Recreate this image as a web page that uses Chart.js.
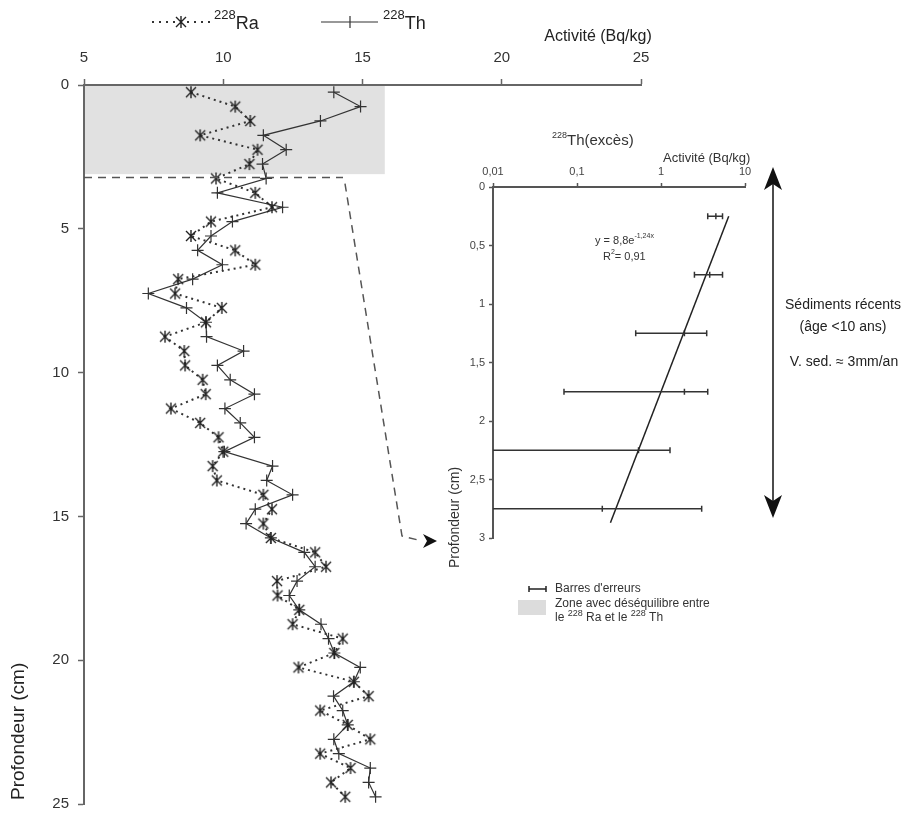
<!DOCTYPE html>
<html>
<head>
<meta charset="utf-8">
<script src="https://cdn.jsdelivr.net/npm/chart.js@4.4.1/dist/chart.umd.min.js"></script>
<style>
  body { margin: 0; background: #fff; }
  #wrap { position: relative; width: 917px; height: 822px; overflow: hidden; }
  #main { position: absolute; left: 0; top: 0; }
  #inset { position: absolute; left: 430px; top: 120px; }
</style>
</head>
<body>
<div id="wrap">
  <canvas id="main" width="917" height="822" style="width:917px;height:822px"></canvas>
  <canvas id="inset" width="340" height="510" style="width:340px;height:510px"></canvas>
</div>
<script>
// profile : depth (cm) vs activity (Bq/kg)
const depthCm = [0.25, 0.75, 1.25, 1.75, 2.25, 2.75, 3.25, 3.75, 4.25, 4.75,
  5.25, 5.75, 6.25, 6.75, 7.25, 7.75, 8.25, 8.75, 9.25, 9.75,
  10.25, 10.75, 11.25, 11.75, 12.25, 12.75, 13.25, 13.75, 14.25, 14.75,
  15.25, 15.75, 16.25, 16.75, 17.25, 17.75, 18.25, 18.75, 19.25, 19.75,
  20.25, 20.75, 21.25, 21.75, 22.25, 22.75, 23.25, 23.75, 24.25, 24.75];
const ra228 = [8.84, 10.43, 10.97, 9.17, 11.23, 10.94, 9.74, 11.15, 11.75, 9.56,
  8.84, 10.43, 11.15, 8.38, 8.27, 9.95, 9.38, 7.91, 8.60, 8.63,
  9.26, 9.37, 8.12, 9.17, 9.83, 10.0, 9.62, 9.77, 11.44, 11.75,
  11.44, 11.71, 13.30, 13.69, 11.93, 11.95, 12.73, 12.49, 14.29, 13.99,
  12.70, 14.69, 15.22, 13.48, 14.47, 15.28, 13.48, 14.57, 13.87, 14.38];
const th228 = [13.97, 14.93, 13.49, 11.44, 12.26, 11.41, 11.54, 9.79, 12.13, 10.33,
  9.56, 9.08, 9.97, 8.90, 7.31, 8.68, 9.38, 9.40, 10.73, 9.79,
  10.25, 11.12, 10.06, 10.61, 11.12, 10.04, 11.77, 11.56, 12.49, 11.15,
  10.82, 11.71, 12.91, 13.30, 12.65, 12.37, 12.73, 13.51, 13.78, 13.99,
  14.92, 14.69, 13.96, 14.29, 14.47, 13.97, 14.15, 15.28, 15.22, 15.47];
const actTicks = [5, 10, 15, 20, 25];
const depthTicks = [0, 5, 10, 15, 20, 25];
const zoneAct = [5, 15.8];
const zoneDepth = [0, 3.1];
const linkDepth = 3.22;

// inset : 228Th excess (log scale)
const excessDepth = [0.25, 0.75, 1.25, 1.75, 2.25, 2.75];
const thExcess = [4.5, 3.8, 1.9, 1.9, 0.54, 0.2];
const thExcessLow = [3.6, 2.5, 0.5, 0.07, 0.005, 0.005];
const thExcessHigh = [5.4, 5.4, 3.5, 3.6, 1.28, 3.05];
const fitAct = [6.4, 0.25];
const fitDepth = [0.25, 2.87];
const logTicks = [0.01, 0.1, 1, 10];
const insetDepthTicks = [0, 0.5, 1, 1.5, 2, 2.5, 3];

const FONT = 'Liberation Sans, Arial, Helvetica, sans-serif';
Chart.defaults.font.family = FONT;
Chart.defaults.color = '#333';

const frNum = v => String(v).replace('.', ',');

function raMarker() {
  const c = document.createElement('canvas');
  c.width = 14; c.height = 14;
  const g = c.getContext('2d');
  g.strokeStyle = '#222';
  g.lineWidth = 1.4;
  g.beginPath();
  g.moveTo(2, 2); g.lineTo(12, 12);
  g.moveTo(12, 2); g.lineTo(2, 12);
  g.moveTo(7, 1); g.lineTo(7, 13);
  g.stroke();
  return c;
}
const raImg = raMarker();

// draws text runs, some of them as superscripts
function richText(ctx, parts, x, y) {
  let cx = x;
  parts.forEach(p => {
    ctx.font = p.size + 'px ' + FONT;
    ctx.fillText(p.t, cx, y + (p.dy || 0));
    cx += ctx.measureText(p.t).width;
  });
}

const mainDecor = {
  id: 'mainDecor',
  beforeDraw(chart) {
    const { ctx, scales: { x, y } } = chart;
    const x0 = x.getPixelForValue(zoneAct[0]), x1 = x.getPixelForValue(zoneAct[1]);
    const y0 = y.getPixelForValue(zoneDepth[0]), y1 = y.getPixelForValue(zoneDepth[1]);
    ctx.save();
    ctx.fillStyle = '#e1e1e1';
    ctx.fillRect(x0, y0, x1 - x0, y1 - y0);
    ctx.restore();
  },
  afterDraw(chart) {
    const { ctx, scales: { x, y }, chartArea } = chart;
    ctx.save();

    // dashed link to the inset
    const yl = y.getPixelForValue(linkDepth);
    ctx.strokeStyle = '#555';
    ctx.lineWidth = 1.5;
    ctx.setLineDash([8, 6]);
    ctx.beginPath();
    ctx.moveTo(chartArea.left, yl);
    ctx.lineTo(343, yl);
    ctx.stroke();
    ctx.beginPath();
    ctx.moveTo(345, yl + 6);
    ctx.lineTo(402, 536);
    ctx.lineTo(422, 541);
    ctx.stroke();
    ctx.setLineDash([]);
    ctx.fillStyle = '#111';
    ctx.beginPath();
    ctx.moveTo(437, 541); ctx.lineTo(423, 534); ctx.lineTo(427, 541); ctx.lineTo(423, 548);
    ctx.closePath(); ctx.fill();

    // double arrow on the right
    ctx.strokeStyle = '#111';
    ctx.lineWidth = 1.5;
    ctx.beginPath(); ctx.moveTo(773, 180); ctx.lineTo(773, 505); ctx.stroke();
    ctx.beginPath();
    ctx.moveTo(773, 167); ctx.lineTo(764, 190); ctx.lineTo(773, 184); ctx.lineTo(782, 190);
    ctx.closePath(); ctx.fill();
    ctx.beginPath();
    ctx.moveTo(773, 518); ctx.lineTo(764, 495); ctx.lineTo(773, 501); ctx.lineTo(782, 495);
    ctx.closePath(); ctx.fill();

    ctx.fillStyle = '#222';
    ctx.textAlign = 'center';
    ctx.textBaseline = 'middle';
    ctx.font = '14px ' + FONT;
    ctx.fillText('Sédiments récents', 843, 305);
    ctx.fillText('(âge <10 ans)', 843, 327);
    ctx.fillText('V. sed. ≈ 3mm/an', 844, 362);

    // axis titles
    ctx.font = '16px ' + FONT;
    ctx.fillText('Activité (Bq/kg)', 598, 37);
    ctx.save();
    ctx.translate(19, 800);
    ctx.rotate(-Math.PI / 2);
    ctx.textAlign = 'left';
    ctx.font = '19px ' + FONT;
    ctx.fillText('Profondeur (cm)', 0, 0);
    ctx.restore();

    // top legend
    ctx.strokeStyle = '#333';
    ctx.lineWidth = 2;
    ctx.setLineDash([2, 5]);
    ctx.beginPath(); ctx.moveTo(152, 22); ctx.lineTo(211, 22); ctx.stroke();
    ctx.setLineDash([]);
    ctx.drawImage(raImg, 174, 15);
    ctx.lineWidth = 1.2;
    ctx.beginPath(); ctx.moveTo(321, 22); ctx.lineTo(378, 22);
    ctx.moveTo(350, 16); ctx.lineTo(350, 28); ctx.stroke();
    ctx.textAlign = 'left';
    ctx.fillStyle = '#222';
    richText(ctx, [{ t: '228', size: 13, dy: -7 }, { t: 'Ra', size: 18, dy: 2 }], 214, 22);
    richText(ctx, [{ t: '228', size: 13, dy: -7 }, { t: 'Th', size: 18, dy: 2 }], 383, 22);
    ctx.restore();
  }
};

const axisGrid = { display: true, drawOnChartArea: false, drawTicks: true, tickLength: 6, color: '#666', tickWidth: 1.5 };

new Chart(document.getElementById('main'), {
  type: 'scatter',
  data: {
    datasets: [
      {
        label: '228Ra',
        data: depthCm.map((d, i) => ({ x: ra228[i], y: d })),
        showLine: true,
        borderColor: '#333',
        borderWidth: 2,
        borderDash: [2, 4],
        pointStyle: raImg,
        pointRadius: 7
      },
      {
        label: '228Th',
        data: depthCm.map((d, i) => ({ x: th228[i], y: d })),
        showLine: true,
        borderColor: '#333',
        borderWidth: 1.2,
        pointStyle: 'cross',
        pointRadius: 6,
        pointBorderWidth: 1.2,
        pointBorderColor: '#333'
      }
    ]
  },
  options: {
    responsive: false,
    animation: false,
    layout: { padding: { left: 49, top: 50, right: 276, bottom: 12 } },
    plugins: { legend: { display: false }, tooltip: { enabled: false } },
    scales: {
      x: {
        type: 'linear', position: 'top', min: 5, max: 25,
        afterBuildTicks: s => { s.ticks = actTicks.map(v => ({ value: v })); },
        afterFit: s => { s.height = 35; },
        ticks: { font: { size: 15 }, color: '#333', padding: 12 },
        grid: axisGrid,
        border: { color: '#666', width: 2 }
      },
      y: {
        type: 'linear', reverse: true, min: 0, max: 25,
        afterBuildTicks: s => { s.ticks = depthTicks.map(v => ({ value: v })); },
        afterFit: s => { s.width = 35; },
        ticks: { font: { size: 15 }, color: '#333', padding: 9 },
        grid: axisGrid,
        border: { color: '#666', width: 2 }
      }
    }
  },
  plugins: [mainDecor]
});

const insetDecor = {
  id: 'insetDecor',
  afterDatasetsDraw(chart) {
    const { ctx, scales: { x, y }, chartArea } = chart;
    ctx.save();
    ctx.strokeStyle = '#333';
    ctx.lineWidth = 1.5;
    excessDepth.forEach((d, i) => {
      const py = y.getPixelForValue(d);
      const lowIn = thExcessLow[i] >= x.min;
      const x1 = lowIn ? x.getPixelForValue(thExcessLow[i]) : chartArea.left;
      const x2 = x.getPixelForValue(thExcessHigh[i]);
      ctx.beginPath();
      ctx.moveTo(x1, py); ctx.lineTo(x2, py);
      if (lowIn) { ctx.moveTo(x1, py - 3); ctx.lineTo(x1, py + 3); }
      ctx.moveTo(x2, py - 3); ctx.lineTo(x2, py + 3);
      ctx.stroke();
    });
    ctx.restore();
  },
  afterDraw(chart) {
    const { ctx } = chart;
    ctx.save();
    ctx.fillStyle = '#333';
    ctx.textBaseline = 'middle';
    ctx.textAlign = 'left';
    // title and axis title (canvas offset 430,120)
    richText(ctx, [{ t: '228', size: 9, dy: -5 }, { t: 'Th(excès)', size: 15 }], 122, 21);
    ctx.font = '13px ' + FONT;
    ctx.fillText('Activité (Bq/kg)', 233, 38);
    // fit equation
    richText(ctx, [{ t: 'y = 8,8e', size: 11 }, { t: '-1,24x', size: 7, dy: -5 }], 165, 121);
    richText(ctx, [{ t: 'R', size: 11 }, { t: '2', size: 7, dy: -5 }, { t: '= 0,91', size: 11 }], 173, 137);
    // y title
    ctx.save();
    ctx.translate(25, 448);
    ctx.rotate(-Math.PI / 2);
    ctx.font = '14px ' + FONT;
    ctx.fillText('Profondeur (cm)', 0, 0);
    ctx.restore();
    // bottom legend
    ctx.strokeStyle = '#222';
    ctx.lineWidth = 1.5;
    ctx.beginPath();
    ctx.moveTo(99, 469); ctx.lineTo(116, 469);
    ctx.moveTo(99, 466); ctx.lineTo(99, 472);
    ctx.moveTo(116, 466); ctx.lineTo(116, 472);
    ctx.stroke();
    ctx.font = '12px ' + FONT;
    ctx.fillText("Barres d'erreurs", 125, 469);
    ctx.fillStyle = '#dcdcdc';
    ctx.fillRect(88, 480, 28, 15);
    ctx.fillStyle = '#333';
    ctx.font = '12px ' + FONT;
    ctx.fillText('Zone avec déséquilibre entre', 125, 484);
    richText(ctx, [{ t: 'le ', size: 12 }, { t: '228', size: 9, dy: -4 }, { t: ' Ra et le ', size: 12 },
      { t: '228', size: 9, dy: -4 }, { t: ' Th', size: 12 }], 125, 498);
    ctx.restore();
  }
};

new Chart(document.getElementById('inset'), {
  type: 'scatter',
  data: {
    datasets: [
      {
        label: 'fit',
        data: fitAct.map((v, i) => ({ x: v, y: fitDepth[i] })),
        showLine: true,
        borderColor: '#222',
        borderWidth: 1.5,
        pointRadius: 0
      },
      {
        label: '228Th excès',
        data: excessDepth.map((d, i) => ({ x: thExcess[i], y: d })),
        pointStyle: 'line',
        rotation: 90,
        pointRadius: 3,
        pointBorderWidth: 1.5,
        pointBorderColor: '#333'
      }
    ]
  },
  options: {
    responsive: false,
    animation: false,
    layout: { padding: { left: 33, top: 41, right: 25, bottom: 92 } },
    plugins: { legend: { display: false }, tooltip: { enabled: false } },
    scales: {
      x: {
        type: 'logarithmic', position: 'top', min: 0.01, max: 10,
        afterBuildTicks: s => { s.ticks = logTicks.map(v => ({ value: v })); },
        afterFit: s => { s.height = 26; },
        ticks: { font: { size: 11 }, color: '#444', padding: 4, callback: v => frNum(v) },
        grid: { display: true, drawOnChartArea: false, drawTicks: true, tickLength: 4, color: '#555', tickWidth: 1.5 },
        border: { color: '#555', width: 2 }
      },
      y: {
        type: 'linear', reverse: true, min: 0, max: 3,
        afterBuildTicks: s => { s.ticks = insetDepthTicks.map(v => ({ value: v })); },
        afterFit: s => { s.width = 30; },
        ticks: { font: { size: 11 }, color: '#444', padding: 4, callback: v => frNum(v) },
        grid: { display: true, drawOnChartArea: false, drawTicks: true, tickLength: 4, color: '#555', tickWidth: 1.5 },
        border: { color: '#555', width: 2 }
      }
    }
  },
  plugins: [insetDecor]
});
</script>
</body>
</html>
